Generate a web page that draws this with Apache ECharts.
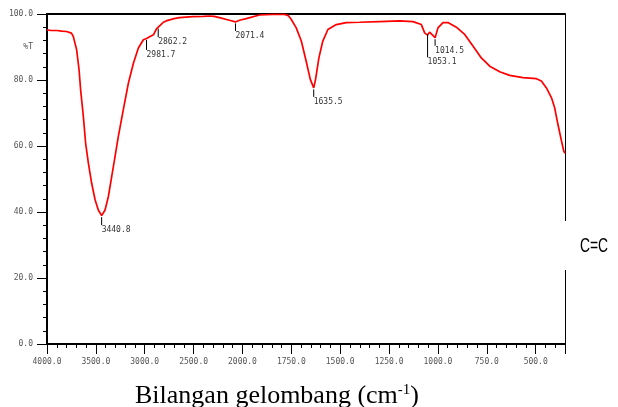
<!DOCTYPE html>
<html><head><meta charset="utf-8">
<script src="https://cdn.jsdelivr.net/npm/echarts@6/dist/echarts.min.js"></script>
<style>html,body{margin:0;padding:0;background:#fff}#c{width:618px;height:407px}</style>
</head><body><div id="c"></div>
<script>
// ---- data ----
const wavenumbers = [4000,3960,3900,3850,3800,3782,3750,3731,3697,3672,3656,3628,3605,3577,3543,3508,3475,3440.8,3406,3372,3338,3304,3270,3219,3167,3116,3065,3014,2981.7,2945,2911,2894,2880,2862,2840,2809,2781,2700,2645,2509,2400,2338,2290,2236,2133,2071.4,2030,1981,1913,1845,1785,1765,1751,1725,1699,1674,1653,1635.5,1626,1609,1589,1563,1520,1469,1401,1300,1196,1128,1085,1068,1053.1,1043,1031,1014.5,1000,974,949,906,863,821,778,735,684,633,565,496,471,445,419,403,386,368,356,350];
const transmittance = [95.2,95.0,95.0,94.8,94.7,94.6,94.2,93.2,89.2,83.1,77.0,68.9,60.9,54.9,48.7,43.7,40.6,38.9,40.6,44.7,50.7,56.8,62.9,71.0,79.1,85.1,89.7,92.2,92.6,93.2,93.7,94.2,95.5,96.0,96.6,97.5,97.9,98.6,98.9,99.2,99.3,99.4,99.3,98.9,98.1,97.6,98.1,98.6,99.7,99.9,99.9,99.5,98.4,95.8,91.8,85.7,80.2,77.6,80.2,86.7,91.8,95.3,96.8,97.4,97.5,97.7,97.9,97.7,96.8,94.3,93.6,94.5,93.8,92.8,95.8,97.4,97.4,96.0,93.8,90.3,86.7,84.2,82.5,81.4,80.7,80.4,79.7,77.6,74.6,71.6,66.5,61.5,58.4,57.8];
const peakWavenumbers = [3440.8, 2981.7, 2862.2, 2071.4, 1635.5, 1053.1, 1014.5];
const peakTransmittance = [38.9, 92.6, 96.0, 97.6, 77.6, 94.3, 92.8];
const peakLabels = ['3440.8','2981.7','2862.2','2071.4','1635.5','1053.1','1014.5'];
const xTickLabels = [4000,3500,3000,2500,2000,1750,1500,1250,1000,750,500];
const yTickValues = [0,20,40,60,80,100];
const xRange = [4000, 350];
const yAxisName = '%T';
const xAxisTitle = 'Bilangan gelombang (cm';
const xAxisTitleSup = '-1';
const xAxisTitleEnd = ')';
const annotationText = 'C=C';

// ---- styling / layout (not data) ----
const peakTickLength = [8, 10, 8.5, 7.5, 7.5, 23, 6.5];
const monoFont = '"DejaVu Sans Mono", "Liberation Mono", monospace';

// Piecewise FTIR axis: 4000-2000 at 500 per division, 2000-350 at 250 per division
function u(w){ return w >= 2000 ? (4000 - w) / 500 : 4 + (2000 - w) / 250; }
function inv(v){ return v <= 4 ? 4000 - 500 * v : 2000 - 250 * (v - 4); }

const lineData = wavenumbers.map((w, i) => [u(w), transmittance[i]]);
const peakData = peakWavenumbers.map((w, i) => [u(w), peakTransmittance[i]]);

const cv = document.createElement('canvas').getContext('2d');
function tw(t, f){ cv.font = f; return cv.measureText(t).width; }
const titleFont = '26px "Liberation Serif", "Times New Roman", serif';
const supFont = '15px "Liberation Serif", "Times New Roman", serif';
const w1 = tw(xAxisTitle, titleFont), w2 = tw(xAxisTitleSup, supFont), w3 = tw(xAxisTitleEnd, titleFont);
const titleCenter = 277;
const tx = titleCenter - (w1 + w2 + w3) / 2;

const chart = echarts.init(document.getElementById('c'), null, {renderer: 'canvas'});
const xFmt = v => {
  const w = inv(v);
  if (Math.abs(v - Math.round(v)) > 1e-6) return '';
  return xTickLabels.some(t => Math.abs(t - w) < 1e-6) ? w.toFixed(1) : '';
};
chart.setOption({
  animation: false,
  grid: {left: 47, right: 53, top: 14, bottom: 63},
  xAxis: [{
    type: 'value', min: 0, max: u(xRange[1]), interval: 1, position: 'bottom',
    axisLine: {show: true, onZero: false, lineStyle: {color: '#000', width: 2}},
    axisTick: {show: true, inside: false, length: 10, lineStyle: {color: '#000', width: 1}},
    minorTick: {show: true, splitNumber: 5, length: 4, lineStyle: {color: '#000', width: 1}},
    axisLabel: {formatter: xFmt, fontSize: 8, fontFamily: monoFont, color: '#555', margin: 14, showMaxLabel: false},
    splitLine: {show: false}
  }, {
    type: 'value', min: 0, max: u(xRange[1]), position: 'top',
    axisLine: {show: true, onZero: false, lineStyle: {color: '#000', width: 2}},
    axisTick: {show: false}, axisLabel: {show: false}, splitLine: {show: false}
  }],
  yAxis: [{
    type: 'value', min: yTickValues[0], max: yTickValues[yTickValues.length - 1], interval: 20,
    axisLine: {show: true, onZero: false, lineStyle: {color: '#000', width: 2}},
    axisTick: {show: true, inside: false, length: 10, lineStyle: {color: '#000', width: 1}},
    minorTick: {show: true, splitNumber: 5, length: 4, lineStyle: {color: '#000', width: 1}},
    axisLabel: {formatter: v => v.toFixed(1), fontSize: 8, fontFamily: monoFont, color: '#555', margin: 14},
    splitLine: {show: false}
  }, {
    type: 'value', min: 0, max: 100, position: 'right',
    axisLine: {show: true, onZero: false, lineStyle: {color: '#000', width: 1}},
    axisTick: {show: false}, axisLabel: {show: false}, splitLine: {show: false}
  }],
  series: [{
    type: 'line', data: lineData, xAxisIndex: 0, yAxisIndex: 0,
    showSymbol: false, symbol: 'none',
    lineStyle: {color: '#ff0000', width: 1.7}, z: 3
  }, {
    type: 'custom', data: peakData, xAxisIndex: 0, yAxisIndex: 0, clip: false, z: 4,
    renderItem: (params, api) => {
      const p = api.coord([api.value(0), api.value(1)]);
      const len = peakTickLength[params.dataIndex];
      const y0 = p[1] + 1.5, y1 = y0 + len;
      return {type: 'group', children: [
        {type: 'line', shape: {x1: p[0], y1: y0, x2: p[0], y2: y1}, style: {stroke: '#000', lineWidth: 1}},
        {type: 'text', x: p[0], y: y1 + 5, style: {text: peakLabels[params.dataIndex], fill: '#333', font: '8px ' + monoFont, align: 'left', verticalAlign: 'middle'}}
      ]};
    }
  }],
  graphic: [
    {type: 'text', x: 33, y: 47, style: {text: yAxisName, fill: '#555', font: '8px ' + monoFont, align: 'right', verticalAlign: 'middle'}},
    {type: 'text', x: tx, y: 396, style: {text: xAxisTitle, fill: '#000', font: titleFont, align: 'left', verticalAlign: 'middle'}},
    {type: 'text', x: tx + w1, y: 390, style: {text: xAxisTitleSup, fill: '#000', font: supFont, align: 'left', verticalAlign: 'middle'}},
    {type: 'text', x: tx + w1 + w2, y: 396, style: {text: xAxisTitleEnd, fill: '#000', font: titleFont, align: 'left', verticalAlign: 'middle'}},
    {type: 'rect', shape: {x: 558, y: 221, width: 60, height: 49}, style: {fill: '#fff'}, z: 100},
    {type: 'text', x: 594, y: 246, scaleX: 0.66, z: 101, style: {text: annotationText, fill: '#000', font: '21px "Liberation Sans", Arial, sans-serif', align: 'center', verticalAlign: 'middle'}}
  ]
});
</script>
</body></html>
